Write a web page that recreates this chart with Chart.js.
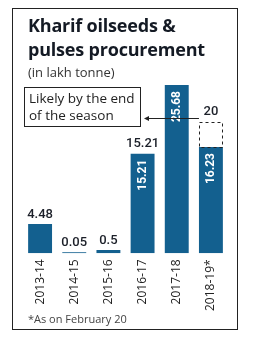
<!DOCTYPE html>
<html>
<head>
<meta charset="utf-8">
<script src="https://cdn.jsdelivr.net/npm/chart.js@4.4.0/dist/chart.umd.min.js"></script>
<style>
  html, body { margin: 0; padding: 0; background: #fff; }
  #wrap { position: relative; width: 253px; height: 341px; overflow: hidden; }
  #frame { position: absolute; left: 12px; top: 8px; width: 226px; height: 322px; border: 1px solid #222; box-sizing: border-box; }
  #title { position: absolute; left: 28px; top: 13px; font-family: "Open Sans", sans-serif; font-weight: 700; font-size: 18px; line-height: 24px; color: #141a24; letter-spacing: -0.2px; }
  #sub { position: absolute; left: 28px; top: 63px; font-family: "Open Sans", sans-serif; font-size: 13px; color: #333; }
  #note { position: absolute; left: 28px; top: 311px; font-family: "Open Sans", sans-serif; font-size: 11px; color: #444; }
  #callout { position: absolute; left: 24px; top: 87px; width: 117px; height: 40px; border: 1px solid #222; box-sizing: border-box;
             font-family: "Open Sans", sans-serif; font-size: 13.5px; line-height: 17px; color: #222; padding: 2px 0 0 4px; background: #fff; }
  canvas { position: absolute; left: 0; top: 0; }
</style>
</head>
<body>
<div id="wrap">
  <div id="frame"></div>
  <canvas id="chart" width="253" height="341"></canvas>
  <div id="title">Kharif oilseeds &amp;<br>pulses procurement</div>
  <div id="sub">(in lakh tonne)</div>
  <div id="callout">Likely by the end<br>of the season</div>
  <div id="note">*As on February 20</div>
</div>
<script>
// ----------------- DATA -----------------
const years = ["2013-14", "2014-15", "2015-16", "2016-17", "2017-18", "2018-19*"];
const procured = [4.48, 0.05, 0.5, 15.21, 25.68, 16.23];
const likely = [null, null, null, null, null, 20];
const labelAbove = [true, true, true, true, false, false];
const labelInside = [false, false, false, true, true, true];

const BAR = "#13608f";
const TEXT = "#1b1f28";

// ----------------- LABELS + DASHED BOX -----------------
const labelPlugin = {
    id: "labels",
    afterDatasetsDraw(chart) {
        const ctx = chart.ctx;
        const bars = chart.getDatasetMeta(0).data;
        const proj = chart.getDatasetMeta(1).data;

        ctx.save();
        ctx.font = "500 13px Roboto";
        ctx.fillStyle = TEXT;
        ctx.textAlign = "center";
        ctx.textBaseline = "bottom";
        bars.forEach((b, i) => {
            if (labelAbove[i]) ctx.fillText(String(procured[i]), b.x, b.y - 3);
        });

        ctx.font = "bold 12px Roboto";
        ctx.fillStyle = "#fff";
        bars.forEach((b, i) => {
            if (!labelInside[i]) return;
            ctx.save();
            ctx.translate(b.x, b.y + 6);
            ctx.rotate(-Math.PI / 2);
            ctx.textAlign = "right";
            ctx.textBaseline = "middle";
            ctx.fillText(procured[i].toFixed(2), 0, 0);
            ctx.restore();
        });

        // projected portion, dashed outline
        proj.forEach((p, i) => {
            if (likely[i] == null) return;
            const left = p.x - p.width / 2;
            ctx.strokeStyle = "#222";
            ctx.lineWidth = 1;
            ctx.setLineDash([3, 3]);
            ctx.strokeRect(Math.round(left) + 0.5, Math.round(p.y) + 0.5, Math.round(p.width) - 1, Math.round(p.base - p.y));
            ctx.setLineDash([]);

            ctx.font = "500 13px Roboto";
            ctx.fillStyle = TEXT;
            ctx.textAlign = "center";
            ctx.textBaseline = "bottom";
            ctx.fillText(String(likely[i]), p.x, p.y - 4);

            // arrow to the callout
            const ay = 118.5, tip = 144;
            ctx.beginPath();
            ctx.moveTo(left, ay);
            ctx.lineTo(tip + 3, ay);
            ctx.stroke();
            ctx.beginPath();
            ctx.moveTo(tip, ay);
            ctx.lineTo(tip + 5, ay - 2.5);
            ctx.lineTo(tip + 5, ay + 2.5);
            ctx.closePath();
            ctx.fillStyle = "#222";
            ctx.fill();
        });
        ctx.restore();
    }
};

// ----------------- CHART -----------------
new Chart(document.getElementById("chart"), {
    type: "bar",
    data: {
        labels: years,
        datasets: [
            { data: procured, backgroundColor: BAR, grouped: false, categoryPercentage: 1, barPercentage: 0.7, minBarLength: 1 },
            { data: likely.map((v, i) => v == null ? null : [procured[i], v]), backgroundColor: "rgba(0,0,0,0)",
              grouped: false, categoryPercentage: 1, barPercentage: 0.7 }
        ]
    },
    options: {
        responsive: false,
        animation: false,
        layout: { padding: { left: 23, right: 25, top: 83, bottom: 24 } },
        plugins: { legend: { display: false }, tooltip: { enabled: false } },
        scales: {
            x: {
                grid: { display: false, drawTicks: false },
                border: { display: false },
                ticks: { minRotation: 90, maxRotation: 90, padding: 6, color: "#222", font: { family: "Open Sans", size: 12 } }
            },
            y: { display: false, min: 0, max: 26 }
        }
    },
    plugins: [labelPlugin]
});
</script>
</body>
</html>
